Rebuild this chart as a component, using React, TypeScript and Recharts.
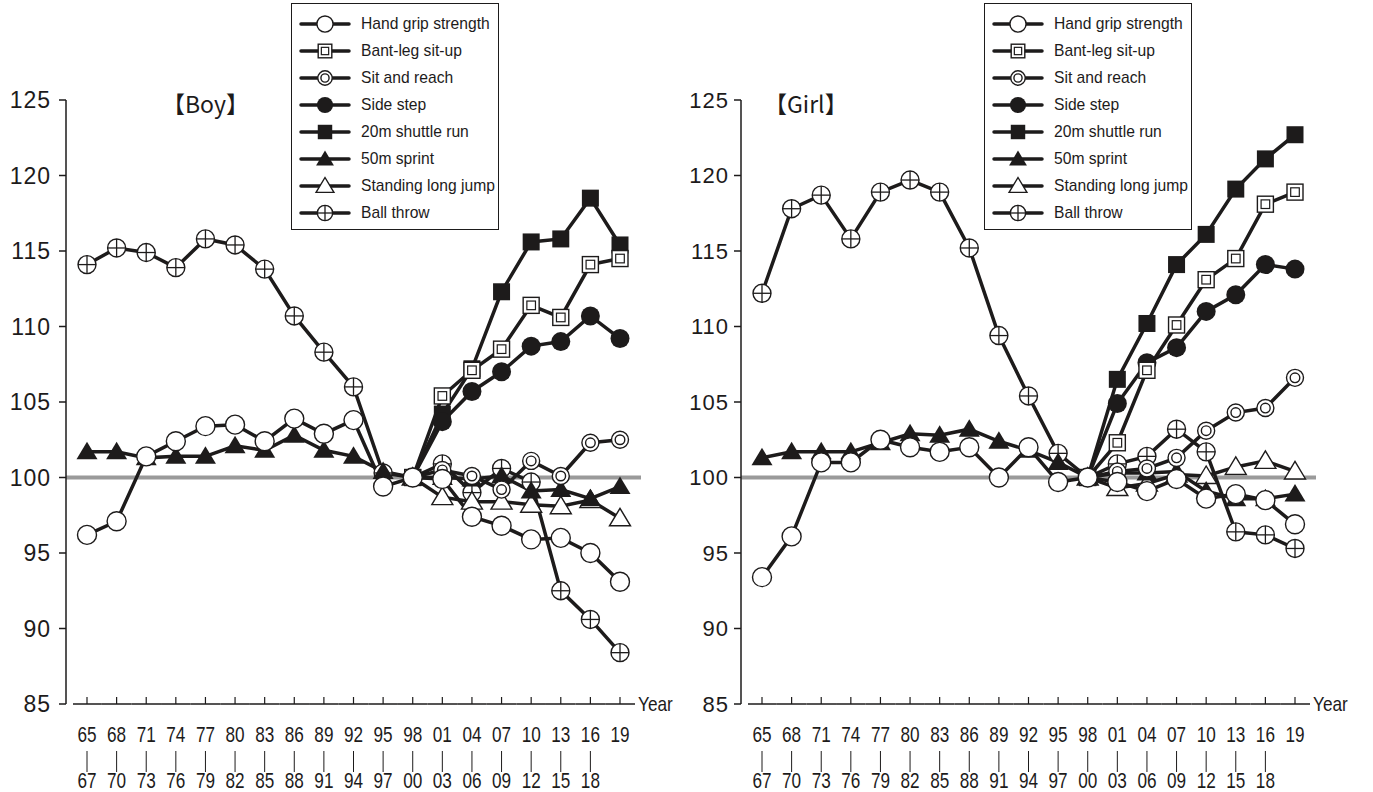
import React from 'react';
import { LineChart, Line, XAxis, YAxis, ReferenceLine, Legend } from 'recharts';

// survey periods (start / end of 3-year window), 1998 = 100
const years = ['65', '68', '71', '74', '77', '80', '83', '86', '89', '92', '95', '98', '01', '04', '07', '10', '13', '16', '19'];
const yearsEnd = ['67', '70', '73', '76', '79', '82', '85', '88', '91', '94', '97', '00', '03', '06', '09', '12', '15', '18', ''];
const yTicks = [85, 90, 95, 100, 105, 110, 115, 120, 125];

const n = null;

// Boy
const boyGrip = [96.2, 97.1, 101.4, 102.4, 103.4, 103.5, 102.4, 103.9, 102.9, 103.8, 99.4, 100, 99.9, 97.4, 96.8, 95.9, 96.0, 95.0, 93.1];
const boySitup = [n, n, n, n, n, n, n, n, n, n, n, 100, 105.4, 107.1, 108.5, 111.4, 110.6, 114.1, 114.5];
const boyReach = [n, n, n, n, n, n, n, n, n, n, n, 100, 100.5, 100.1, 99.2, 101.1, 100.1, 102.3, 102.5];
const boySideStep = [n, n, n, n, n, n, n, n, n, n, n, 100, 103.7, 105.7, 107.0, 108.7, 109.0, 110.7, 109.2];
const boyShuttle = [n, n, n, n, n, n, n, n, n, n, n, 100, 104.2, 107.2, 112.3, 115.6, 115.8, 118.5, 115.4];
const boySprint = [101.7, 101.7, 101.3, 101.4, 101.4, 102.1, 101.8, 102.8, 101.8, 101.4, 100.4, 100, 100.0, 99.9, 100.1, 99.1, 99.2, 98.6, 99.4];
const boyJump = [n, n, n, n, n, n, n, n, n, n, n, 100, 98.7, 98.4, 98.4, 98.2, 98.1, 98.5, 97.3];
const boyThrow = [114.1, 115.2, 114.9, 113.9, 115.8, 115.4, 113.8, 110.7, 108.3, 106.0, 100.3, 100, 100.9, 99.0, 100.6, 99.7, 92.5, 90.6, 88.4];

// Girl
const girlGrip = [93.4, 96.1, 101.0, 101.0, 102.5, 102.0, 101.7, 102.0, 100.0, 102.0, 99.7, 100, 99.7, 99.1, 99.9, 98.6, 98.9, 98.5, 96.9];
const girlSitup = [n, n, n, n, n, n, n, n, n, n, n, 100, 102.3, 107.1, 110.1, 113.1, 114.5, 118.1, 118.9];
const girlReach = [n, n, n, n, n, n, n, n, n, n, n, 100, 100.4, 100.6, 101.3, 103.1, 104.3, 104.6, 106.6];
const girlSideStep = [n, n, n, n, n, n, n, n, n, n, n, 100, 104.9, 107.6, 108.6, 111.0, 112.1, 114.1, 113.8];
const girlShuttle = [n, n, n, n, n, n, n, n, n, n, n, 100, 106.5, 110.2, 114.1, 116.1, 119.1, 121.1, 122.7];
const girlSprint = [101.3, 101.7, 101.7, 101.7, 102.3, 102.9, 102.8, 103.2, 102.4, 101.8, 101.0, 100, 100.3, 100.3, 100.4, 99.1, 98.6, 98.6, 98.9];
const girlJump = [n, n, n, n, n, n, n, n, n, n, n, 100, 99.3, 99.6, 100.2, 100.1, 100.7, 101.1, 100.4];
const girlThrow = [112.2, 117.8, 118.7, 115.8, 118.9, 119.7, 118.9, 115.2, 109.4, 105.4, 101.6, 100, 100.9, 101.4, 103.2, 101.7, 96.4, 96.2, 95.3];

const seriesInfo = [
  { key: 'grip', name: 'Hand grip strength', shape: 'circle' },
  { key: 'situp', name: 'Bant-leg sit-up', shape: 'dsquare' },
  { key: 'reach', name: 'Sit and reach', shape: 'dcircle' },
  { key: 'sideStep', name: 'Side step', shape: 'fcircle' },
  { key: 'shuttle', name: '20m shuttle run', shape: 'fsquare' },
  { key: 'sprint', name: '50m sprint', shape: 'ftri' },
  { key: 'jump', name: 'Standing long jump', shape: 'otri' },
  { key: 'throw', name: 'Ball throw', shape: 'cross' },
];
// drawn bottom-up: ball throw first, hand grip on top
const drawOrder = [...seriesInfo].reverse();

const buildRows = (cols: Record<string, (number | null)[]>) =>
  years.map((year, i) => {
    const row: any = { year };
    Object.keys(cols).forEach((k) => (row[k] = cols[k][i]));
    return row;
  });

const boyData = buildRows({
  grip: boyGrip, situp: boySitup, reach: boyReach, sideStep: boySideStep,
  shuttle: boyShuttle, sprint: boySprint, jump: boyJump, throw: boyThrow,
});
const girlData = buildRows({
  grip: girlGrip, situp: girlSitup, reach: girlReach, sideStep: girlSideStep,
  shuttle: girlShuttle, sprint: girlSprint, jump: girlJump, throw: girlThrow,
});

const INK = '#1d1b1b';
const PLOT_W = 575;
const PAD = 21;
const STEP = (PLOT_W - 2 * PAD) / (years.length - 1);
const SANS = "'Liberation Sans', Arial, sans-serif";

const Marker = ({ shape, cx, cy, s = 1 }: { shape: string; cx: number; cy: number; s?: number }) => {
  const sw = 1.4;
  if (shape === 'circle') return <circle cx={cx} cy={cy} r={9.5 * s} fill="#fff" stroke={INK} strokeWidth={sw} />;
  if (shape === 'dcircle')
    return (
      <g>
        <circle cx={cx} cy={cy} r={8.5 * s} fill="#fff" stroke={INK} strokeWidth={sw} />
        <circle cx={cx} cy={cy} r={4.8 * s} fill="none" stroke={INK} strokeWidth={sw} />
      </g>
    );
  if (shape === 'fcircle') return <circle cx={cx} cy={cy} r={9.5 * s} fill={INK} />;
  if (shape === 'fsquare') {
    const h = 8.5 * s;
    return <rect x={cx - h} y={cy - h} width={2 * h} height={2 * h} fill={INK} />;
  }
  if (shape === 'dsquare') {
    const h = 8 * s;
    const k = 4.3 * s;
    return (
      <g>
        <rect x={cx - h} y={cy - h} width={2 * h} height={2 * h} fill="#fff" stroke={INK} strokeWidth={sw} />
        <rect x={cx - k} y={cy - k} width={2 * k} height={2 * k} fill="none" stroke={INK} strokeWidth={1.2} />
      </g>
    );
  }
  if (shape === 'ftri' || shape === 'otri') {
    const pts = `${cx},${cy - 10 * s} ${cx + 10.5 * s},${cy + 7.5 * s} ${cx - 10.5 * s},${cy + 7.5 * s}`;
    return shape === 'ftri'
      ? <polygon points={pts} fill={INK} />
      : <polygon points={pts} fill="#fff" stroke={INK} strokeWidth={sw} />;
  }
  // ball throw: circle with cross
  const r = 9 * s;
  return (
    <g>
      <circle cx={cx} cy={cy} r={r} fill="#fff" stroke={INK} strokeWidth={sw} />
      <line x1={cx - r} x2={cx + r} y1={cy} y2={cy} stroke={INK} strokeWidth={1.3} />
      <line x1={cx} x2={cx} y1={cy - r} y2={cy + r} stroke={INK} strokeWidth={1.3} />
    </g>
  );
};

const dotFor = (shape: string, key: string) => (p: any) => {
  const k = `${key}-${p.index}`;
  if (p.value == null || p.cx == null || p.cy == null) return <g key={k} />;
  return (
    <g key={k}>
      <Marker shape={shape} cx={p.cx} cy={p.cy} />
    </g>
  );
};

// condensed digits like the original print
const Narrow = ({ x, y, children, size = 22, sx = 0.78, anchor = 'middle' }: any) => (
  <text transform={`translate(${x},${y}) scale(${sx},1)`} textAnchor={anchor} fontFamily={SANS} fontSize={size} fill={INK}>
    {children}
  </text>
);

const YearTick = (p: any) => {
  const { x, y, index } = p;
  const last = years.length - 1;
  const x0 = index === 0 ? x - 14 : x - STEP / 2;
  const x1 = index === last ? x + 15 : x + STEP / 2;
  return (
    <g>
      <line x1={x0} x2={x1} y1={y} y2={y} stroke={INK} strokeWidth={1.5} />
      <line x1={x} x2={x} y1={y} y2={y - 7} stroke={INK} strokeWidth={1.2} />
      <Narrow x={x} y={y + 38}>{years[index]}</Narrow>
      {yearsEnd[index] && (
        <g>
          <line x1={x} x2={x} y1={y + 47} y2={y + 68} stroke={INK} strokeWidth={1} />
          <Narrow x={x} y={y + 84}>{yearsEnd[index]}</Narrow>
        </g>
      )}
      {index === last && (
        <Narrow x={x + 18} y={y + 7} size={21} sx={0.82} anchor="start">Year</Narrow>
      )}
    </g>
  );
};

const LegendBox = () => (
  <div
    style={{
      border: `1.5px solid ${INK}`, background: '#fff', padding: '6px 4px 3px 7px',
      boxSizing: 'border-box', width: 208,
    }}
  >
    {seriesInfo.map((s) => (
      <div key={s.key} style={{ display: 'flex', alignItems: 'center', height: 27 }}>
        <svg width={52} height={22} style={{ flex: 'none' }}>
          <line x1={2} x2={50} y1={11} y2={11} stroke={INK} strokeWidth={3.5} strokeLinecap="round" />
          <Marker shape={s.shape} cx={26} cy={11} s={0.85} />
        </svg>
        <span
          style={{
            marginLeft: 10, fontFamily: SANS, fontSize: 17, color: INK, whiteSpace: 'nowrap',
            display: 'inline-block', transform: 'scaleX(0.92)', transformOrigin: 'left center',
          }}
        >
          {s.name}
        </span>
      </div>
    ))}
  </div>
);

type PanelProps = {
  data: any[];
  left: number;
  width: number;
  axisWidth: number;
  labelGap: number;
  labelSize: number;
  title: string;
  titleLeft: number;
  legendLeft: number;
};

const Panel = ({ data, left, width, axisWidth, labelGap, labelSize, title, titleLeft, legendLeft }: PanelProps) => (
  <div style={{ position: 'absolute', left, top: 0, width, height: 792 }}>
    <LineChart
      width={width}
      height={792}
      data={data}
      margin={{ top: 100, right: width - axisWidth - PLOT_W, bottom: 0, left: 0 }}
    >
      <ReferenceLine y={100} stroke="#9a9a9a" strokeWidth={4} />
      <XAxis
        dataKey="year"
        interval={0}
        height={88}
        padding={{ left: PAD, right: PAD }}
        axisLine={false}
        tickLine={false}
        tickSize={0}
        tickMargin={0}
        tick={<YearTick />}
      />
      <YAxis
        type="number"
        domain={[85, 125]}
        ticks={yTicks}
        interval={0}
        width={axisWidth}
        axisLine={{ stroke: INK, strokeWidth: 1.5 }}
        tickLine={{ stroke: INK, strokeWidth: 1.5 }}
        tickSize={7}
        tickMargin={labelGap}
        tick={{ fontFamily: SANS, fontSize: labelSize, fill: INK, letterSpacing: 1 }}
      />
      <Legend
        layout="vertical"
        align="center"
        verticalAlign="middle"
        wrapperStyle={{ left: legendLeft - left, top: 3, width: 208 }}
        content={() => <LegendBox />}
      />
      {drawOrder.map((s) => (
        <Line
          key={s.key}
          type="linear"
          dataKey={s.key}
          name={s.name}
          stroke={INK}
          strokeWidth={3.5}
          dot={dotFor(s.shape, s.key)}
          activeDot={false}
          connectNulls={false}
          isAnimationActive={false}
        />
      ))}
    </LineChart>
    <div
      style={{
        position: 'absolute', left: titleLeft - left, top: 88, fontFamily: "'Noto Sans CJK JP', sans-serif",
        fontSize: 23, color: INK, lineHeight: '30px', whiteSpace: 'nowrap',
      }}
    >
      {title}
    </div>
  </div>
);

export default function App() {
  return (
    <div style={{ position: 'fixed', left: 0, top: 0, width: 1373, height: 792, background: '#fff', overflow: 'hidden' }}>
      <Panel data={boyData} left={0} width={686} axisWidth={66} labelGap={8} labelSize={23} title="【Boy】" titleLeft={162} legendLeft={291} />
      <Panel data={girlData} left={686} width={687} axisWidth={55} labelGap={5} labelSize={22} title="【Girl】" titleLeft={764} legendLeft={984} />
    </div>
  );
}
